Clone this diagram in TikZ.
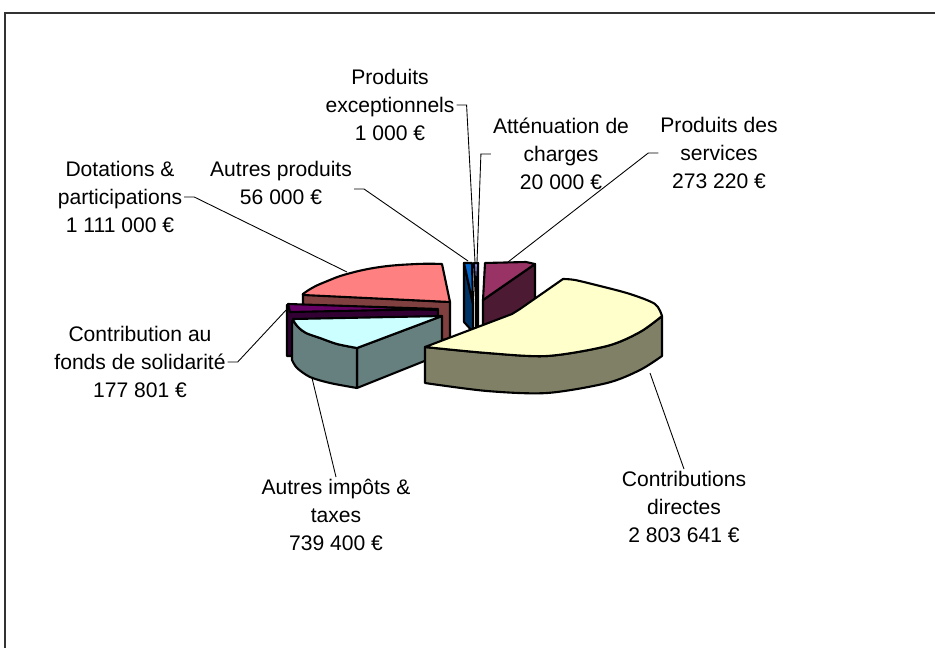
\documentclass[tikz,border=0pt]{standalone}
\usepackage{fontspec}
\setmainfont{Liberation Sans}
\definecolor{servtop}{HTML}{993366}
\definecolor{servside}{HTML}{4D1A33}
\definecolor{dirtop}{HTML}{FFFFCC}
\definecolor{dirside}{HTML}{808066}
\definecolor{imptop}{HTML}{CCFFFF}
\definecolor{impside}{HTML}{668080}
\definecolor{fondtop}{HTML}{660066}
\definecolor{fondside}{HTML}{330033}
\definecolor{dottop}{HTML}{FF8080}
\definecolor{dotside}{HTML}{804040}
\definecolor{autptop}{HTML}{0066CC}
\definecolor{autpside}{HTML}{003366}
\definecolor{atttop}{HTML}{9999FF}
\definecolor{attside}{HTML}{4D4D80}
\tikzset{
  lbl/.style={align=center, inner sep=1pt, font=\fontsize{12}{16}\selectfont},
  leader/.style={draw=black, line width=0.5pt},
  face/.style={draw=black, line width=1.2pt, line join=round},
}
\begin{document}
\begin{tikzpicture}[x=0.02cm, y=-0.02cm]
	\useasboundingbox (0,0) rectangle (935,648);
	\draw[line width=1pt, black!80] (5,648) -- (5,13) -- (935,13);
	% Dotations & participations
	\filldraw[face, fill=dotside] (303,294) -- (450,302) -- (450,340) -- (303,334) -- cycle;
	\filldraw[face, fill=dottop] (450,302) -- (303,295) -- plot[smooth, tension=0.7] coordinates {(303,294) (312,288) (325,282) (347,274) (380,267) (417,264) (442,264)} -- cycle;
	% Contribution au fonds de solidarite
	\filldraw[face, fill=fondside] (287,305) -- (438,310) -- (438,350) -- (290,356) -- (287,356) -- cycle;
	\filldraw[face, fill=fondtop] (288,304) -- (438,309) -- (290,312) -- cycle;
	% Autres produits, attenuation
	\filldraw[face, fill=autpside] (464,263) -- (473,304) -- (473,332) -- (464,322) -- cycle;
	\filldraw[face, fill=autptop] (464,263) -- (472,263) -- (473,304) -- cycle;
	\filldraw[face, fill=attside] (476,300) -- (478,263) -- (478,328) -- (476,330) -- cycle;
	\filldraw[face, fill=atttop] (474,263) -- (478,263) -- (476,300) -- cycle;
	% Produits des services
	\filldraw[face, fill=servside] (483,300) -- (535,264) -- (535,322) -- (483,345) -- cycle;
	\filldraw[face, fill=servtop] (483,300) -- (485,263) -- (526,262) -- (535,264) -- cycle;
	% Autres impots & taxes
	\filldraw[face, fill=impside] (357,348) -- (442,316) -- (442,354) -- (357,388) -- cycle;
	\filldraw[face, fill=impside] (292,321) -- plot[smooth] coordinates {(294,322) (299,328) (306,333) (320,338) (337,344) (357,348)} -- (357,388) -- plot[smooth] coordinates {(357,388) (330,383) (310,377) (297,368) (292,360)} -- cycle;
	\filldraw[face, fill=imptop] (442,316) -- (293,319) -- plot[smooth] coordinates {(293,320) (298,327) (306,333) (320,338) (337,344) (357,348)} -- cycle;
	% Contributions directes
	\filldraw[face, fill=dirside] plot[smooth] coordinates {(425,347) (487,353) (547,356) (607,346) (640,332) (662,316)} -- (662,356) -- plot[smooth] coordinates {(662,356) (640,370) (607,383) (547,393) (487,391) (425,383)} -- cycle;
	\filldraw[face, fill=dirtop] (512,314) -- (425,347) -- plot[smooth] coordinates {(425,347) (487,353) (547,356) (607,346) (640,332) (662,316)} -- plot[smooth] coordinates {(662,316) (655,304) (630,294) (600,286) (575,280) (563,279)} -- (520,309) -- cycle;
	% labels
	\node[lbl] (exc) at (390,105) {Produits\\exceptionnels\\1 000 €};
	\node[lbl] (att) at (561,154) {Atténuation de\\charges\\20 000 €};
	\node[lbl] (serv) at (719,153) {Produits des\\services\\273 220 €};
	\node[lbl] (dot) at (120,197) {Dotations \&\\participations\\1 111 000 €};
	\node[lbl] (autp) at (281,183) {Autres produits\\56 000 €};
	\node[lbl] (fonds) at (140,362) {Contribution au\\fonds de solidarité\\177 801 €};
	\node[lbl] (imp) at (336,515) {Autres impôts \&\\taxes\\739 400 €};
	\node[lbl] (dir) at (684,507) {Contributions\\directes\\2 803 641 €};
	\coordinate (pExc) at (475,262);
	\coordinate (pAtt) at (477,262);
	\coordinate (pServ) at (508,262);
	\coordinate (pDot) at (347,272);
	\coordinate (pAutp) at (468,261);
	\coordinate (pFonds) at (288,308);
	\coordinate (pImp) at (312,378);
	\coordinate (pDir) at (650,373);
	\draw[leader] (exc.east) -- ++(10,0) -- (pExc);
	\draw[leader] (att.west) -- ++(-10,0) -- (pAtt);
	\draw[leader] (serv.west) -- ++(-10,0) -- (pServ);
	\draw[leader] (dot.east) -- ++(10,0) -- (pDot);
	\draw[leader] ([yshift=-0.12cm]autp.east) -- ++(10,0) -- (pAutp);
	\draw[leader] (fonds.east) -- ++(10,0) -- (pFonds);
	\draw[leader] (imp.north) -- (pImp);
	\draw[leader] (dir.north) -- (pDir);
\end{tikzpicture}
\end{document}
